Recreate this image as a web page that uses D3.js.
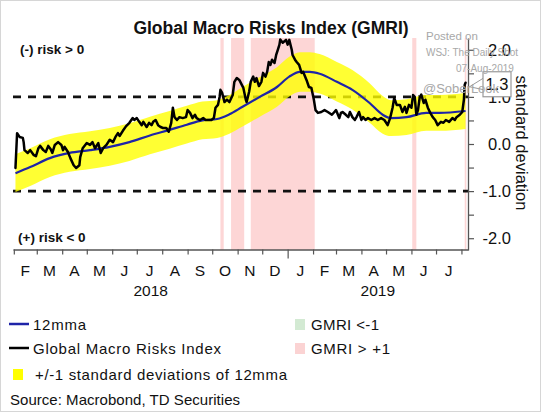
<!DOCTYPE html>
<html><head><meta charset="utf-8">
<script src="https://cdn.jsdelivr.net/npm/d3@7"></script>
<style>html,body{margin:0;padding:0;background:#fff;} svg{display:block;font-family:"Liberation Sans",Arial,sans-serif;}</style>
</head><body><svg id="chart" width="541" height="412"></svg>
<script>
// ---- data (days counted from 1 Jan 2018) ----
const gmriDay = [33,35,38,42,43,44,48,51,55,58,61,63,67,70,73,76,78,81,85,89,91,93,97,100,104,107,111,112,115,120,124,127,130,134,137,140,144,148,152,155,158,160,164,168,172,176,178,181,184,187,189,193,196,199,201,204,207,210,213,217,220,223,225,227,230,233,237,241,243,246,249,252,254,258,262,265,268,272,275,277,280,282,283,285,288,291,294,298,300,303,306,311,314,315,318,320,323,325,327,330,333,335,338,340,342,344,346,349,351,353,355,356,359,363,365,367,370,371,374,376,379,382,384,388,391,394,397,399,402,406,410,414,419,422,424,428,430,432,436,439,441,444,447,449,452,455,457,460,463,467,471,475,479,483,487,490,493,495,498,502,505,508,510,513,516,518,520,522,524,526,528,531,533,536,539,542,545,548,552,555,558,562,566,569,571,575,578,580,581,582];
const gmriValue = [-0.51,0.23,0.15,0.13,0.04,-0.13,-0.19,-0.13,-0.23,-0.26,-0.09,-0.04,-0.13,-0.17,-0.04,-0.11,-0.19,-0.02,0.04,-0.02,-0.13,-0.06,-0.17,-0.30,-0.45,-0.51,-0.45,-0.28,-0.09,0.02,-0.02,0.04,-0.09,0.02,-0.19,-0.09,-0.02,0.09,0.04,0.15,0.23,0.17,0.28,0.38,0.45,0.55,0.51,0.55,0.47,0.40,0.47,0.36,0.45,0.40,0.47,0.51,0.40,0.36,0.34,0.34,0.26,0.45,0.77,0.57,0.51,0.57,0.55,0.57,0.72,0.66,0.55,0.62,0.55,0.51,0.55,0.51,0.51,0.51,0.55,0.77,0.83,1.00,1.15,1.09,0.89,0.94,0.89,1.04,1.32,1.40,1.36,1.19,0.94,0.89,1.11,1.32,1.43,1.32,1.40,1.23,1.32,1.51,1.43,1.53,1.74,1.68,1.79,1.72,1.89,2.00,2.11,2.22,2.15,2.21,2.11,2.21,2.00,1.89,1.79,1.74,1.68,1.51,1.53,1.36,1.21,1.19,0.94,0.72,0.66,0.68,0.72,0.68,0.62,0.68,0.72,0.55,0.66,0.68,0.62,0.57,0.68,0.57,0.51,0.57,0.68,0.51,0.57,0.51,0.55,0.51,0.55,0.51,0.55,0.51,0.40,0.55,0.77,0.98,0.83,0.83,0.68,0.79,0.66,0.83,0.77,1.04,1.00,0.62,0.72,0.98,1.05,0.87,0.94,0.77,0.66,0.57,0.51,0.40,0.47,0.45,0.51,0.47,0.55,0.51,0.57,0.62,0.68,0.94,1.26,1.30];
const mmaDay = [33,51,75,99,124,148,172,197,221,242,261,279,294,310,331,352,367,380,392,404,425,444,465,481,491,510,534,550,582];
const mmaValue = [-0.62,-0.49,-0.30,-0.19,-0.13,-0.06,0.04,0.18,0.30,0.41,0.50,0.53,0.63,0.79,1.00,1.21,1.43,1.53,1.53,1.49,1.32,1.15,0.87,0.62,0.55,0.57,0.66,0.66,0.70];
const mmaStdDev = [0.40,0.40,0.40,0.40,0.40,0.40,0.40,0.40,0.40,0.40,0.40,0.40,0.41,0.42,0.42,0.42,0.42,0.42,0.42,0.42,0.42,0.42,0.42,0.40,0.38,0.38,0.38,0.38,0.38];
const highStartDay = [283,296,320,517,581];
const highEndDay = [287,312,398,522,583];
const monthLabels = ["F","M","A","M","J","J","A","S","O","N","D","J","F","M","A","M","J","J"];
const yearLabels = ["2018","2019"];
const yTickValues = [-2,-1.5,-1,-0.5,0,0.5,1,1.5,2];
const yLabelValues = [-2,-1,0,1,2];
const thresholdValues = [1,-1];
const lastValueLabel = "1.3";

// ---- setup ----
const toDate = d => new Date(2018, 0, 1 + d);
const W = 541, H = 412;
const svg = d3.select("#chart");
svg.append("rect").attr("x",0.5).attr("y",0.5).attr("width",W-1).attr("height",H-1)
  .attr("fill","#fff").attr("stroke","#d6d6d6");

const x = d3.scaleTime().domain([new Date(2018,0,31), new Date(2019,7,9)]).range([13,468]);
const y = d3.scaleLinear().domain([-2.25,2.25]).range([250,38]);

// pink bands
const plot = svg.append("g");
plot.selectAll("rect.high").data(highStartDay.map((s,i)=>({s, e: highEndDay[i]})))
  .join("rect").attr("class","high")
  .attr("x", d=>x(toDate(d.s))).attr("width", d=>x(toDate(d.e))-x(toDate(d.s)))
  .attr("y", y(2.25)).attr("height", y(-2.25)-y(2.25))
  .attr("fill","#fdd6d6");

// threshold dashed lines
plot.selectAll("line.thr").data(thresholdValues).join("line").attr("class","thr")
  .attr("x1", x.range()[0]).attr("x2", x.range()[1])
  .attr("y1", d=>y(d)).attr("y2", d=>y(d))
  .attr("stroke","#111").attr("stroke-width",2.6).attr("stroke-dasharray","8,7");

// yellow band
const mma = mmaDay.map((d,i)=>({date: toDate(d), v: mmaValue[i], sd: mmaStdDev[i]}));
plot.append("path").datum(mma)
  .attr("d", d3.area().x(d=>x(d.date)).y0(d=>y(d.v-d.sd)).y1(d=>y(d.v+d.sd)).curve(d3.curveMonotoneX))
  .attr("fill","#ffff00").attr("fill-opacity",0.8);

// blue 12mma
plot.append("path").datum(mma)
  .attr("d", d3.line().x(d=>x(d.date)).y(d=>y(d.v)).curve(d3.curveMonotoneX))
  .attr("fill","none").attr("stroke","#1f24a8").attr("stroke-width",2.2);

// black GMRI
const gmri = gmriDay.map((d,i)=>({date: toDate(d), v: gmriValue[i]}));
plot.append("path").datum(gmri)
  .attr("d", d3.line().x(d=>x(d.date)).y(d=>y(d.v)))
  .attr("fill","none").attr("stroke","#000").attr("stroke-width",2.5)
  .attr("stroke-linejoin","round").attr("stroke-linecap","round");

// x axis
const monthTicks = d3.timeMonth.range(new Date(2018,1,1), new Date(2019,7,2));
const xAxis = svg.append("g").attr("transform","translate(0,249.5)")
  .call(d3.axisBottom(x).tickValues(monthTicks).tickFormat("").tickSize(5).tickSizeOuter(0));
xAxis.select(".domain").attr("stroke","#555").attr("stroke-width",1.3);
xAxis.selectAll(".tick line").attr("stroke","#555").attr("stroke-width",1.2)
  .attr("y2", d => (d.getMonth()===0 ? 9 : 5));

const months = d3.timeMonth.range(new Date(2018,1,1), new Date(2019,7,1));
svg.append("g").selectAll("text").data(months).join("text")
  .attr("x", (d,i)=>(x(d)+x(d3.timeMonth.offset(d,1)))/2)
  .attr("y", 276).attr("text-anchor","middle")
  .attr("font-size",15.5).attr("fill","#111")
  .text((d,i)=>monthLabels[i]);

const yearBounds = [[new Date(2018,1,1), new Date(2019,0,1)], [new Date(2019,0,1), x.domain()[1]]];
svg.append("g").selectAll("text").data(yearLabels).join("text")
  .attr("x", (d,i)=>(x(yearBounds[i][0])+x(yearBounds[i][1]))/2)
  .attr("y", 296).attr("text-anchor","middle")
  .attr("font-size",15.5).attr("fill","#111").text(d=>d);

// right y axis
const yAxis = svg.append("g").attr("transform","translate(468,0)")
  .call(d3.axisRight(y).tickValues(yTickValues).tickFormat("").tickSize(6).tickSizeOuter(0));
yAxis.select(".domain").attr("stroke","#555").attr("stroke-width",1.3);
yAxis.selectAll(".tick line").attr("stroke","#555").attr("stroke-width",1.2);
svg.append("g").selectAll("text").data(yLabelValues).join("text")
  .attr("x", 511).attr("y", d=>y(d)+6).attr("text-anchor","end")
  .attr("font-size",16.5).attr("fill","#111")
  .text(d=>d.toFixed(1));

svg.append("text").attr("transform","translate(522,143) rotate(90)")
  .attr("text-anchor","middle").attr("dy","0.35em")
  .attr("font-size",16.5).attr("fill","#111").text("standard deviation");

// last value callout
const lastY = y(gmriValue[gmriValue.length-1]);
const lastX = x(toDate(gmriDay[gmriDay.length-1]));
svg.append("path")
  .attr("d", `M484,${lastY-5} L${lastX+4},${lastY+4} L484,${lastY+7}`)
  .attr("fill","#fff").attr("stroke","#9a9a9a").attr("stroke-width",1);
svg.append("rect").attr("x",483).attr("y",lastY-11).attr("width",28).attr("height",25)
  .attr("fill","#fff").attr("stroke","#9a9a9a").attr("stroke-width",1.2);
svg.append("text").attr("x",497).attr("y",lastY+7).attr("text-anchor","middle")
  .attr("font-size",16.5).attr("fill","#111").text(lastValueLabel);

// titles / annotations
svg.append("text").attr("x",271).attr("y",34).attr("text-anchor","middle")
  .attr("font-size",17.5).attr("font-weight","bold").attr("fill","#111")
  .text("Global Macro Risks Index (GMRI)");
svg.append("text").attr("x",20).attr("y",54).attr("font-size",13.5).attr("font-weight","bold")
  .attr("fill","#111").text("(-) risk > 0");
svg.append("text").attr("x",18).attr("y",242).attr("font-size",13.5).attr("font-weight","bold")
  .attr("fill","#111").text("(+) risk < 0");

// watermark
const wm = svg.append("g").attr("fill","#a8a8a8");
wm.append("text").attr("x",426).attr("y",40).attr("font-size",11.5).text("Posted on");
wm.append("text").attr("x",426).attr("y",56).attr("font-size",10).text("WSJ: The Daily Shot");
wm.append("text").attr("x",456).attr("y",72).attr("font-size",10).text("07-Aug-2019");
wm.append("text").attr("x",423).attr("y",93).attr("font-size",13).text("@SoberLook");

// legend
const lg = svg.append("g").attr("font-size",15).attr("fill","#111");
lg.append("line").attr("x1",9).attr("x2",29).attr("y1",324).attr("y2",324).attr("stroke","#1f24a8").attr("stroke-width",2.5);
lg.append("text").attr("x",33).attr("y",329.5).attr("textLength",53).text("12mma");
lg.append("line").attr("x1",9).attr("x2",29).attr("y1",348).attr("y2",348).attr("stroke","#000").attr("stroke-width",2.5);
lg.append("text").attr("x",33).attr("y",353.5).attr("textLength",188).text("Global Macro Risks Index");
lg.append("rect").attr("x",13).attr("y",369).attr("width",10).attr("height",11).attr("fill","#ffff00");
lg.append("text").attr("x",35).attr("y",379.5).attr("textLength",252).text("+/-1 standard deviations of 12mma");
lg.append("rect").attr("x",295).attr("y",319).attr("width",10).attr("height",11).attr("fill","#d3ead3");
lg.append("text").attr("x",311).attr("y",329.5).attr("textLength",68).text("GMRI <-1");
lg.append("rect").attr("x",295).attr("y",343).attr("width",10).attr("height",11).attr("fill","#fbd3d3");
lg.append("text").attr("x",311).attr("y",353.5).attr("textLength",79).text("GMRI > +1");
lg.append("text").attr("x",10).attr("y",405).attr("textLength",230).text("Source: Macrobond, TD Securities");
</script></body></html>
